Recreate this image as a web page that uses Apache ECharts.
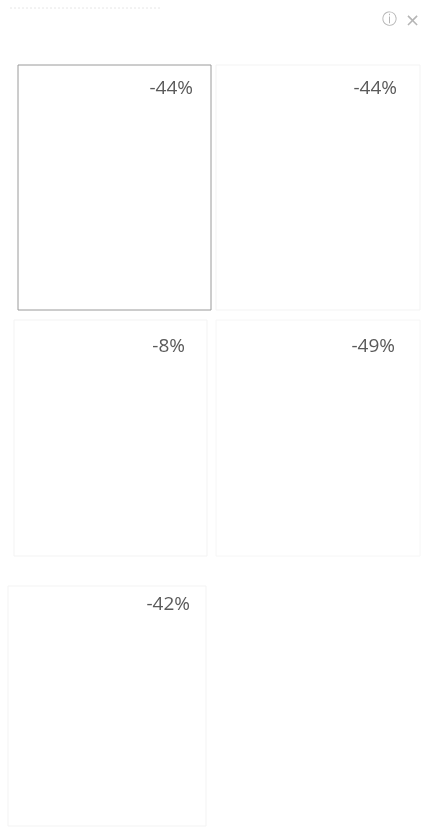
<!DOCTYPE html>
<html>
<head>
<meta charset="utf-8">
<script src="https://cdn.jsdelivr.net/npm/echarts@6/dist/echarts.min.js"></script>
<style>
html,body{margin:0;padding:0;background:#fff;}
#main{width:436px;height:832px;}
</style>
</head>
<body>
<div id="main"></div>
<script>
// KPI values (percent change) for each tile, reading order
const tileNames = ['A', 'B', 'C', 'D', 'E'];
const tileValues = [-44, -44, -8, -49, -42];

// layout of tiles (positions only)
const tileBoxes = [
  {left: 18, top: 65, width: 193, height: 245, border: '#9a9a9a', textRight: 243, textTop: 79},
  {left: 216, top: 65, width: 204, height: 245, border: '#f3f3f3', textRight: 39, textTop: 79},
  {left: 14, top: 320, width: 193, height: 236, border: '#f3f3f3', textRight: 251, textTop: 337},
  {left: 216, top: 320, width: 204, height: 236, border: '#f6f6f6', textRight: 41, textTop: 337},
  {left: 8, top: 586, width: 198, height: 240, border: '#f3f3f3', textRight: 246, textTop: 595}
];

const chart = echarts.init(document.getElementById('main'), null, {renderer: 'canvas'});
const grids = [], xAxes = [], yAxes = [], titles = [];
tileValues.forEach((v, i) => {
  const b = tileBoxes[i];
  grids.push({show: true, left: b.left, top: b.top, width: b.width, height: b.height,
    borderColor: b.border, borderWidth: 1, backgroundColor: 'transparent'});
  xAxes.push({gridIndex: i, type: 'category', data: [tileNames[i]], show: false});
  yAxes.push({gridIndex: i, type: 'value', show: false});
  titles.push({text: v + '%', right: b.textRight, top: b.textTop, padding: 0,
    textStyle: {fontFamily: 'Open Sans', fontSize: 19, fontWeight: 'normal', color: '#5a5a5a'}});
});

chart.setOption({
  animation: false,
  backgroundColor: '#ffffff',
  title: titles,
  grid: grids,
  xAxis: xAxes,
  yAxis: yAxes,
  series: [],
  graphic: [
    {type: 'line', shape: {x1: 10, y1: 8, x2: 160, y2: 8}, style: {stroke: '#e6e6e6', lineDash: [2, 2], lineWidth: 1}},
    {type: 'text', left: 382, top: 13, style: {text: 'ⓘ', fontSize: 15, fill: '#b5b5b5', fontFamily: 'DejaVu Sans'}},
    {type: 'text', left: 405, top: 12, style: {text: '×', fontSize: 18, fill: '#b5b5b5', fontFamily: 'DejaVu Sans'}}
  ]
});
</script>
</body>
</html>
